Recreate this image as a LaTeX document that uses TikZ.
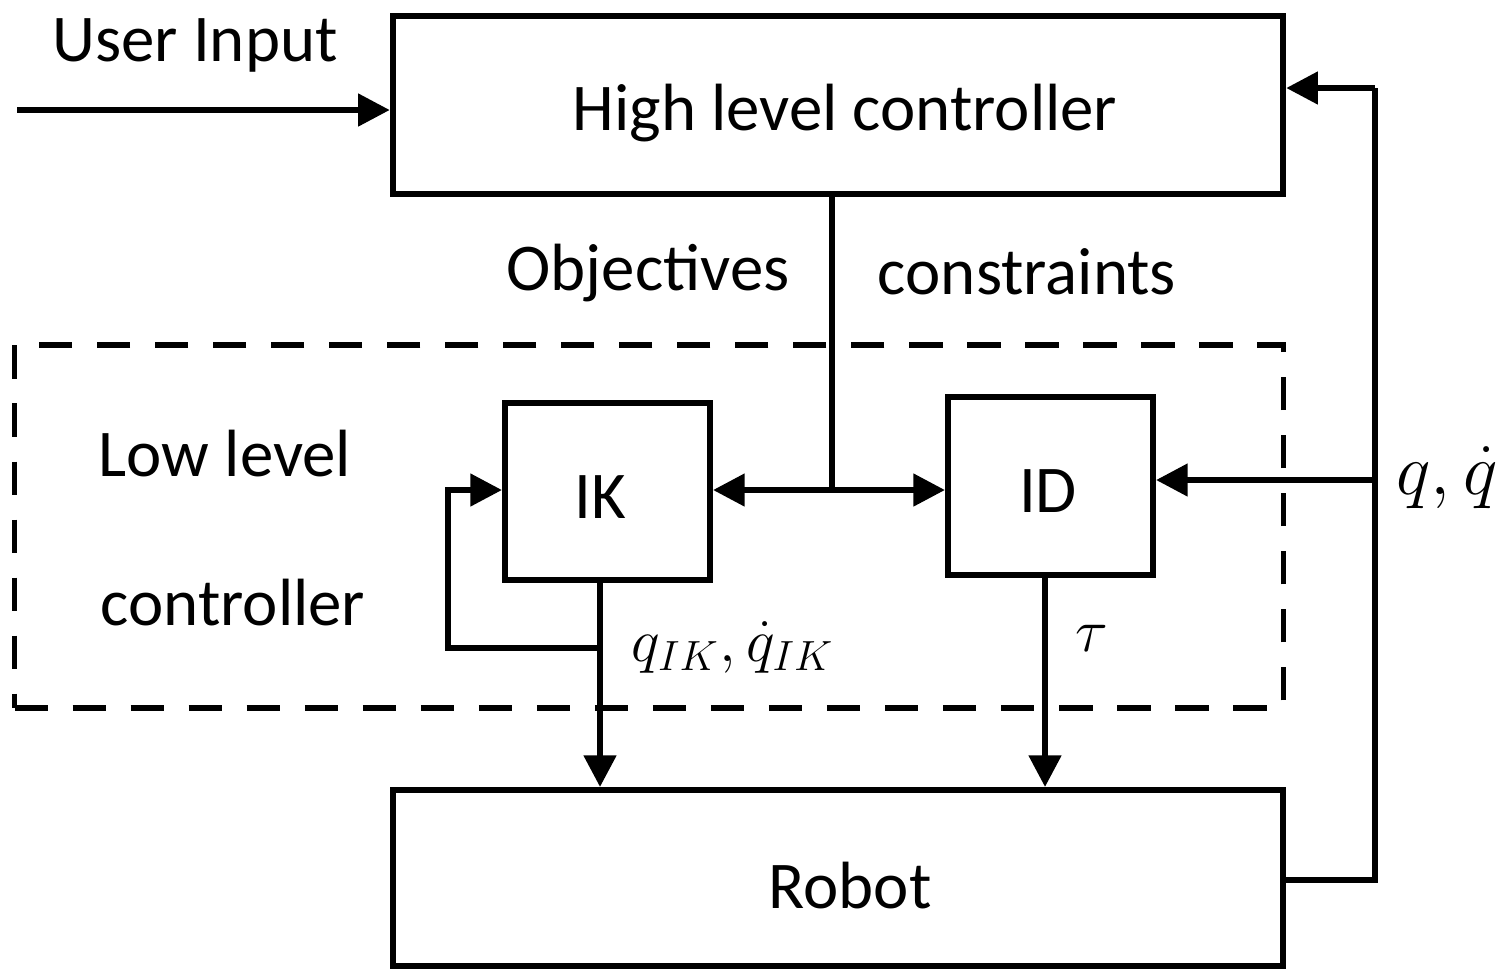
\documentclass[tikz,border=0pt]{standalone}
\usepackage{fontspec}
\setmainfont{Carlito}
\usetikzlibrary{arrows.meta}
\tikzset{
  blk/.style={draw, line width=1.7pt, inner sep=0pt},
  conn/.style={line width=1.7pt},
  arr/.style={conn, -{Triangle[length=9pt,width=9pt]}},
  lbl/.style={inner sep=0pt, font=\fontsize{19}{22}\selectfont},
  mlbl/.style={inner sep=0pt, font=\fontsize{17.5}{20}\selectfont},
  dashbox/.style={draw, line width=1.5pt, dash pattern=on 9.5pt off 7pt},
}
\begin{document}
\begin{tikzpicture}[x=0.01cm,y=-0.01cm]
\useasboundingbox (0,0) rectangle (1501,969);
% boxes
\node[blk, minimum width=8.9cm, minimum height=1.77cm] (hlc) at (838,105) {};
\node[lbl] (hlct) at (845,113) {High level controller};
\node[blk, minimum width=8.9cm, minimum height=1.76cm] (robot) at (838,878) {};
\node[lbl] (robott) at (850,886) {Robot};
\node[blk, minimum width=2.05cm, minimum height=1.77cm] (ik) at (607.5,491.5) {};
\node[lbl] (ikt) at (600,497) {IK};
\node[blk, minimum width=2.05cm, minimum height=1.78cm] (id) at (1050.5,486) {};
\node[lbl] (idt) at (1048,491) {ID};
\node[dashbox, minimum width=12.68cm, minimum height=3.63cm] (low) at (649,526.5) {};
% texts
\node[lbl] (ui) at (195,45) {User Input};
\node[lbl] (obj) at (648,273) {Objectives};
\node[lbl] (con) at (1027,272) {constraints};
\node[lbl] (ll1) at (225,454) {Low level};
\node[lbl] (ll2) at (233,603) {controller};
\node[mlbl, font=\fontsize{19.5}{22}\selectfont] (qq) at (1447,478) {$q,\dot q$};
\node[mlbl] (qik) at (733,647) {$q_{IK},\dot q_{IK}$};
\node[mlbl, font=\fontsize{19}{22}\selectfont] (tau) at (1092,638) {$\tau$};
% coordinates
\coordinate (uin) at (17,110);
\coordinate (split) at (832,490);
\coordinate (fbR) at (1375,880);
\coordinate (fbT) at (1375,88);
\coordinate (fbM) at (1375,480);
\coordinate (ikb) at (600,648);
\coordinate (ikl) at (448,648);
\coordinate (ikr) at (448,490);
\coordinate (idx) at (1045,0);
% connectors
\draw[arr] (uin) -- (uin -| hlc.west);
\draw[conn] (hlc.south -| split) -- (split);
\draw[arr] (split) -- (split -| ik.east);
\draw[arr] (split) -- (split -| id.west);
\draw[conn] (robot.east |- fbR) -- (fbR) -- (fbT);
\draw[arr] (fbT) -- (fbT -| hlc.east);
\draw[arr] (fbM) -- (fbM -| id.east);
\draw[arr] (ik.south -| ikb) -- (robot.north -| ikb);
\draw[arr] (ikb) -- (ikl) -- (ikr) -- (ikr -| ik.west);
\draw[arr] (id.south -| idx) -- (robot.north -| idx);
\end{tikzpicture}
\end{document}
